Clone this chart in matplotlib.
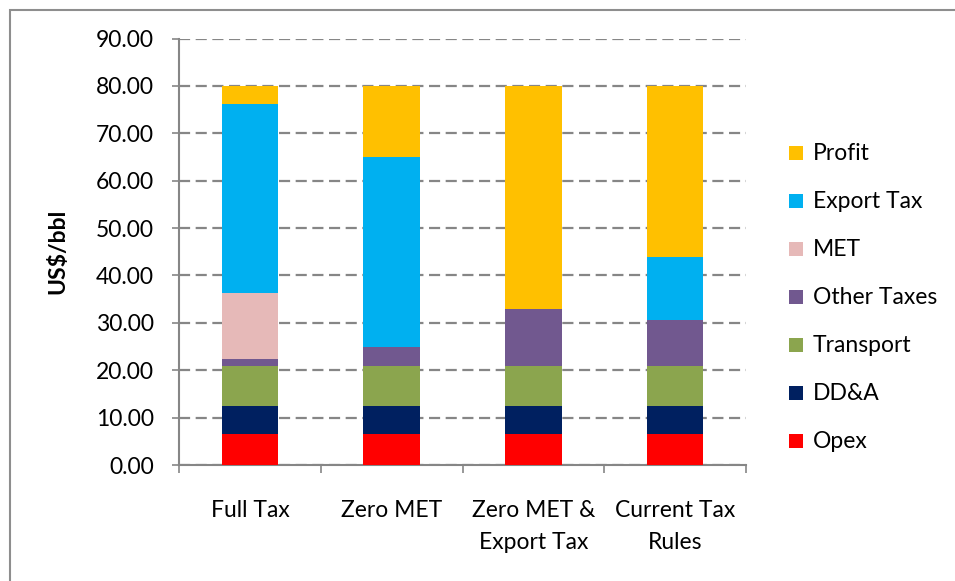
import matplotlib
matplotlib.use("Agg")
import matplotlib.pyplot as plt
from matplotlib.patches import Rectangle
import numpy as np

categories = ["Full Tax", "Zero MET", "Zero MET &\nExport Tax", "Current Tax\nRules"]
series_names = ["Opex", "DD&A", "Transport", "Other Taxes", "MET", "Export Tax", "Profit"]
opex = [6.5, 6.5, 6.5, 6.5]
dda = [5.9, 5.9, 5.9, 5.9]
transport = [8.5, 8.5, 8.5, 8.5]
other_taxes = [1.5, 4.1, 12.1, 9.6]
met = [14.0, 0.0, 0.0, 0.0]
export_tax = [39.9, 40.0, 0.0, 13.4]
profit = [3.7, 15.0, 47.0, 36.1]
colors = ["#FF0000", "#002060", "#8BA54E", "#71588F", "#E6B9B8", "#00B0F0", "#FFC000"]
yticks = [0, 10, 20, 30, 40, 50, 60, 70, 80, 90]

values = [opex, dda, transport, other_taxes, met, export_tax, profit]

plt.rcParams['font.family'] = ['Lato', 'DejaVu Sans']
W, H = 955, 581
fig = plt.figure(figsize=(W / 100, H / 100), dpi=100)

ax_l, ax_r, ax_b, ax_t = 179, 746, 465, 38.6
ax = fig.add_axes([ax_l / W, 1 - ax_b / H, (ax_r - ax_l) / W, (ax_b - ax_t) / H])

x = np.arange(len(categories))
bottom = np.zeros(len(categories))
for name, vals, c in zip(series_names, values, colors):
    ax.bar(x, vals, width=0.4, bottom=bottom, color=c, edgecolor='none', zorder=3)
    bottom += np.array(vals)

ax.set_xlim(-0.5, len(categories) - 0.5)
ax.set_ylim(0, 90)
ax.set_yticks(yticks)
ax.set_yticklabels([f"{v:.2f}" for v in yticks])
gc = "#868686"
ax.yaxis.grid(True, color=gc, linestyle=(0, (5, 2.5)), linewidth=1.6, zorder=0)
ax.set_axisbelow(True)
for s in ['top', 'right']:
    ax.spines[s].set_visible(False)
for s in ['left', 'bottom']:
    ax.spines[s].set_color(gc)
    ax.spines[s].set_linewidth(1.5)
ax.tick_params(axis='y', length=5, width=1.2, color=gc, pad=13, labelsize=16.5, labelcolor='black')
ax.set_xticks(x)
ax.set_xticklabels(categories, fontsize=16.5, linespacing=1.6)
ax.set_xticks(np.arange(-0.5, len(categories)), minor=True)
ax.tick_params(axis='x', which='major', length=0, pad=25.5)
ax.tick_params(axis='x', which='minor', length=6, width=1.2, color=gc)
ax.set_ylabel("US$/bbl", fontsize=16.5, fontweight='bold', labelpad=20)

# legend (top-to-bottom: Profit ... Opex)
for i, (name, c) in enumerate(zip(series_names[::-1], colors[::-1])):
    yc = 153 + 48 * i
    fig.patches.append(Rectangle((789 / W, 1 - (yc + 7) / H), 14 / W, 14 / H,
                                 transform=fig.transFigure, facecolor=c, edgecolor='none'))
    fig.text(813 / W, 1 - yc / H, name, fontsize=16.5, va='center', ha='left')

# outer chart border
fig.patches.append(Rectangle((10 / W, -0.1), 1.2, 1 - 10 / H + 0.1, transform=fig.transFigure,
                             facecolor='none', edgecolor='#8E8E8E', linewidth=1.5, clip_on=False))

fig.savefig("out.png", dpi=100)
